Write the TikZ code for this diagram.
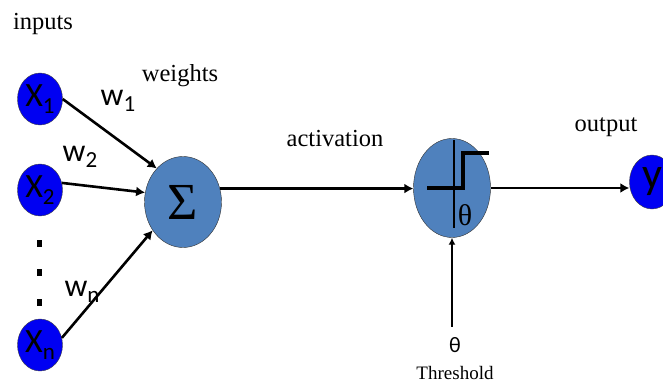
\documentclass[tikz,border=0pt]{standalone}
\usepackage{fontspec}
\setmainfont{Liberation Serif}
\newfontfamily\calfont{Carlito}
\usetikzlibrary{calc,arrows.meta,shapes.geometric}
\definecolor{inBlue}{HTML}{0000F2}
\definecolor{unitBlue}{HTML}{4F81BD}
\newcommand{\lowidx}[1]{\raisebox{-0.4ex}{\fontsize{23}{23}\selectfont #1}}

\begin{document}
\begin{tikzpicture}[x=1pt, y=-1pt,
      inp/.style={ellipse, draw=black!75, fill=inBlue, inner sep=0pt,
                  minimum width=45pt, minimum height=52pt,
                  font=\calfont\fontsize{34}{34}\selectfont},
      unit/.style={ellipse, draw=black!80, fill=unitBlue, inner sep=0pt},
      lbl/.style={font=\fontsize{24.5}{26}\selectfont},
      wlbl/.style={font=\calfont\fontsize{32}{32}\selectfont},
      arr/.style={-{Latex[length=9pt,width=10pt]}, line width=2.6pt}]
    \useasboundingbox (0,0) rectangle (663,385);
    % Inputs
    \node[lbl] (inputs) at (43,24) {inputs};
    \node[inp] (x1) at (40,99) {X\lowidx{1}};
    \node[inp] (x2) at (40,190) {X\lowidx{2}};
    \node[inp] (xn) at (40,345) {X\lowidx{n}};
    \foreach \yy in {243,272,302}
      \fill (37,\yy-3.5) rectangle (42,\yy+3.5);
    % Weights and sum
    \node[lbl] (weights) at (180,76) {weights};
    \node[wlbl] (w1) at (118,101) {w\lowidx{1}};
    \node[wlbl] (w2) at (80,157) {w\lowidx{2}};
    \node[wlbl] (wn) at (82,292) {w\lowidx{n}};
    \node[unit, minimum width=77pt, minimum height=91pt,
          font=\fontsize{52}{52}\selectfont] (sum) at (183,202) {Σ};
    \draw[arr] (x1.east) -- (sum.128);
    \draw[arr] (x2.18) -- (sum.166);
    \draw[arr] (xn.18) -- (sum.223);
    % Activation
    \node[lbl] (activation) at (335,139) {activation};
    \node[unit, minimum width=77pt, minimum height=99pt] (act) at (452,188) {};
    \draw[line width=2.4pt] ([shift={(2,-48)}]act.center) -- ([shift={(2,40)}]act.center);
    \draw[line width=4pt] ([shift={(-25,0)}]act.center) -- ([shift={(11,0)}]act.center)
      -- ([shift={(11,-35)}]act.center) -- ([shift={(37,-35)}]act.center);
    \node[font=\fontsize{30}{30}\selectfont] (thIn) at ([shift={(13,27)}]act.center) {θ};
    \draw[arr] (sum.20) -- (sum.20 -| act.west);
    % Threshold
    \node[font=\calfont\fontsize{22}{22}\selectfont] (theta) at (455,345) {θ};
    \node[font=\fontsize{19}{20}\selectfont] (threshold) at (455,373) {Threshold};
    \draw[-{Latex[length=7pt,width=7pt]}, line width=1.4pt] ($(theta.north -| act.south)+(0,-7)$) -- (act.south);
    % Output
    \node[lbl] (output) at (606,127) {output};
    \node[inp, minimum height=54pt, font=\calfont\fontsize{44}{44}\selectfont] (yout) at (652,182) {y};
    \draw[arr] (act.east) -- (act.east -| yout.west);
  \end{tikzpicture}
\end{document}
